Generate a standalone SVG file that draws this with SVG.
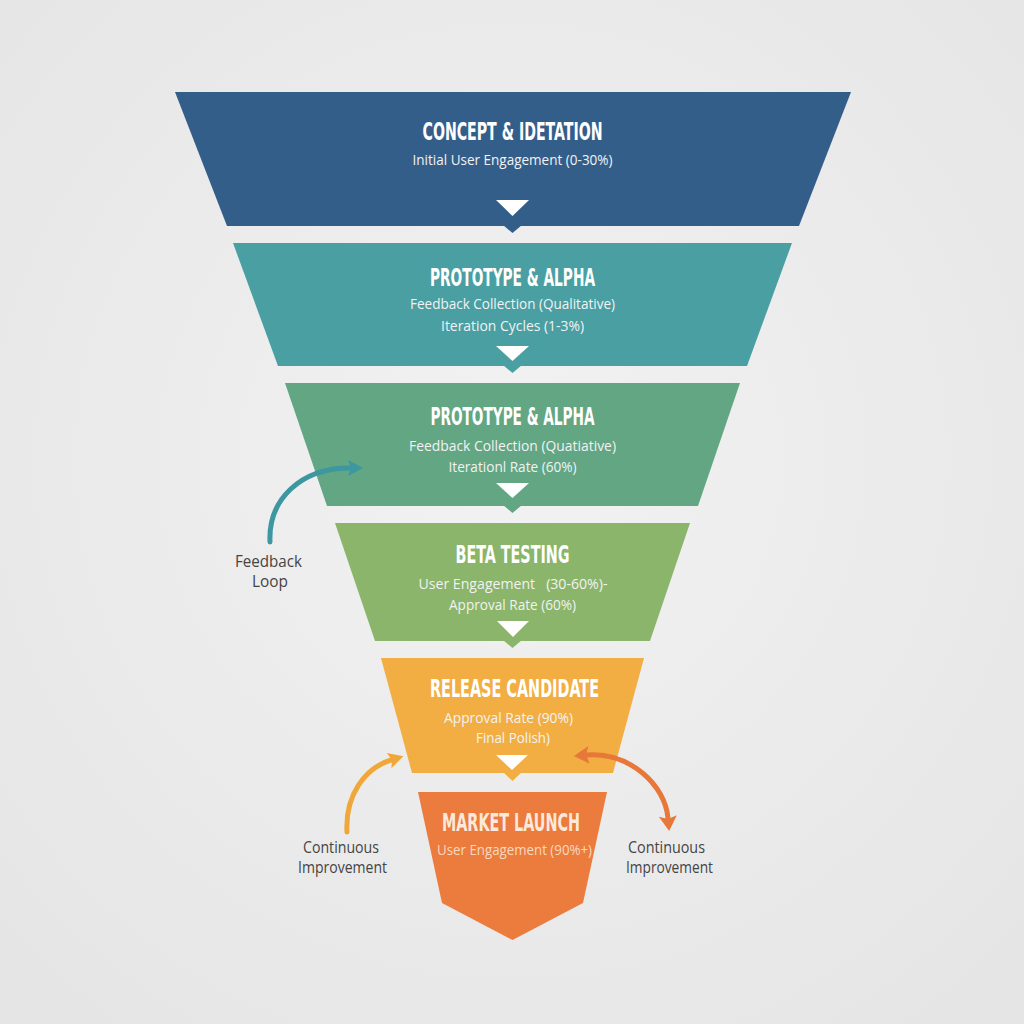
<svg xmlns="http://www.w3.org/2000/svg" width="1024" height="1024" viewBox="0 0 1024 1024">
<defs>
<radialGradient id="bg" cx="50%" cy="45%" r="70%">
<stop offset="0" stop-color="#f2f2f2"/>
<stop offset="1" stop-color="#e5e5e5"/>
</radialGradient>
<marker id="mTeal" markerUnits="userSpaceOnUse" markerWidth="20" markerHeight="20" viewBox="0 -10 18 20" refX="2" refY="0" orient="auto">
<path d="M0,-8 L15,0 L0,8 L3,0 z" fill="#3c97a1"/>
</marker>
<marker id="mYel" markerUnits="userSpaceOnUse" markerWidth="20" markerHeight="20" viewBox="0 -10 18 20" refX="2" refY="0" orient="auto">
<path d="M0,-8 L15,0 L0,8 L3,0 z" fill="#f0a73a"/>
</marker>
<marker id="mOr" markerUnits="userSpaceOnUse" markerWidth="20" markerHeight="20" viewBox="0 -10 18 20" refX="2" refY="0" orient="auto-start-reverse">
<path d="M0,-9 L15,0 L0,9 L3,0 z" fill="#e8773a"/>
</marker>
</defs>
<style>
.title{font-family:"DejaVu Sans Condensed","DejaVu Sans",sans-serif;font-weight:bold;font-size:25px;fill:#ffffff;text-anchor:middle}
.sub{font-family:"Open Sans","Liberation Sans",sans-serif;font-size:15px;fill:#f2f2f2;text-anchor:middle}
.lbl{font-family:"Open Sans","Liberation Sans",sans-serif;font-size:16px;fill:#444444;text-anchor:middle}
.tri{fill:#ffffff}
.conn{fill:none;stroke-width:5;stroke-linecap:round}
</style>
<rect x="0" y="0" width="1024" height="1024" fill="url(#bg)"/>

<g id="concept-ideation">
<polygon points="175,92 851,92 799,226 227,226" fill="#345e8a"/>
<polygon points="503,225 522,225 512.5,233" fill="#345e8a"/>
<polygon class="tri" points="496,200 529,200 512.5,216"/>
<text class="title" x="512.5" y="140" textLength="180" lengthAdjust="spacingAndGlyphs">CONCEPT &amp; IDETATION</text>
<text class="sub" x="512.5" y="165" textLength="200" lengthAdjust="spacingAndGlyphs">Initial User Engagement (0-30%)</text>
</g>

<g id="prototype-alpha-1">
<polygon points="233,243 792,243 747,366 278,366" fill="#4a9fa2"/>
<polygon points="503,365 522,365 512.5,373" fill="#4a9fa2"/>
<polygon class="tri" points="496,346 529,346 512.5,361"/>
<text class="title" x="512.5" y="286" textLength="165" lengthAdjust="spacingAndGlyphs">PROTOTYPE &amp; ALPHA</text>
<text class="sub" x="512.5" y="309" textLength="205" lengthAdjust="spacingAndGlyphs">Feedback Collection (Qualitative)</text>
<text class="sub" x="512.5" y="331" textLength="143" lengthAdjust="spacingAndGlyphs">Iteration Cycles (1-3%)</text>
</g>

<g id="prototype-alpha-2">
<polygon points="285,383 740,383 698,506 327,506" fill="#62a684"/>
<polygon points="503,505 522,505 512.5,513" fill="#62a684"/>
<polygon class="tri" points="496,483 529,483 512.5,498"/>
<text class="title" x="512.5" y="425" textLength="164" lengthAdjust="spacingAndGlyphs">PROTOTYPE &amp; ALPHA</text>
<text class="sub" x="512.5" y="451" textLength="207" lengthAdjust="spacingAndGlyphs">Feedback Collection (Quatiative)</text>
<text class="sub" x="512.5" y="472" textLength="128" lengthAdjust="spacingAndGlyphs">Iterationl Rate  (60%)</text>
</g>

<g id="beta-testing">
<polygon points="335,523 690,523 650,641 375,641" fill="#8ab56a"/>
<polygon points="503,640 522,640 512.5,648" fill="#8ab56a"/>
<polygon class="tri" points="497,621 529,621 513,637"/>
<text class="title" x="512.5" y="563" textLength="114" lengthAdjust="spacingAndGlyphs">BETA TESTING</text>
<text class="sub" x="513" y="589" textLength="189" lengthAdjust="spacingAndGlyphs" xml:space="preserve">User Engagement   (30-60%)-</text>
<text class="sub" x="512.5" y="610" textLength="127" lengthAdjust="spacingAndGlyphs">Approval Rate (60%)</text>
</g>

<g id="release-candidate">
<polygon points="381,658 644,658 613,773 412,773" fill="#f2ae42"/>
<polygon points="503,772 522,772 512.5,781" fill="#f2ae42"/>
<polygon class="tri" points="496,755 528,755 512,770"/>
<text class="title" x="514.5" y="697" textLength="169" lengthAdjust="spacingAndGlyphs">RELEASE CANDIDATE</text>
<text class="sub" x="508.5" y="723" textLength="129" lengthAdjust="spacingAndGlyphs">Approval Rate (90%)</text>
<text class="sub" x="513" y="743" textLength="74" lengthAdjust="spacingAndGlyphs">Final Polish)</text>
</g>

<g id="market-launch">
<polygon points="418,792 607,792 583,903 512.5,940 442,903" fill="#ec7b3e"/>
<text class="title" x="511" y="831" textLength="138" lengthAdjust="spacingAndGlyphs" style="fill:#fbeadb">MARKET LAUNCH</text>
<text class="sub" x="514.5" y="855" textLength="155" lengthAdjust="spacingAndGlyphs" style="fill:#f9d9bd">User Engagement (90%+)</text>
</g>

<g id="connectors">
<path class="conn" d="M270,542 C268,500 300,468 350,468" stroke="#3c97a1" marker-end="url(#mTeal)"/>
<path class="conn" d="M347,832 C345,795 365,768 391,760" stroke="#f0a73a" marker-end="url(#mYel)"/>
<path class="conn" d="M587,755 C630,752 665,785 668,818" stroke="#e8773a" marker-start="url(#mOr)" marker-end="url(#mOr)"/>
</g>

<g id="labels">
<text class="lbl" x="268.5" y="567" textLength="67" lengthAdjust="spacingAndGlyphs">Feedback</text>
<text class="lbl" x="270" y="587" textLength="36" lengthAdjust="spacingAndGlyphs">Loop</text>
<text class="lbl" x="341" y="853" textLength="76" lengthAdjust="spacingAndGlyphs">Continuous</text>
<text class="lbl" x="342.5" y="873" textLength="89" lengthAdjust="spacingAndGlyphs">Improvement</text>
<text class="lbl" x="666.5" y="853" textLength="77" lengthAdjust="spacingAndGlyphs">Continuous</text>
<text class="lbl" x="669.5" y="873" textLength="87" lengthAdjust="spacingAndGlyphs">Improvement</text>
</g>
</svg>
